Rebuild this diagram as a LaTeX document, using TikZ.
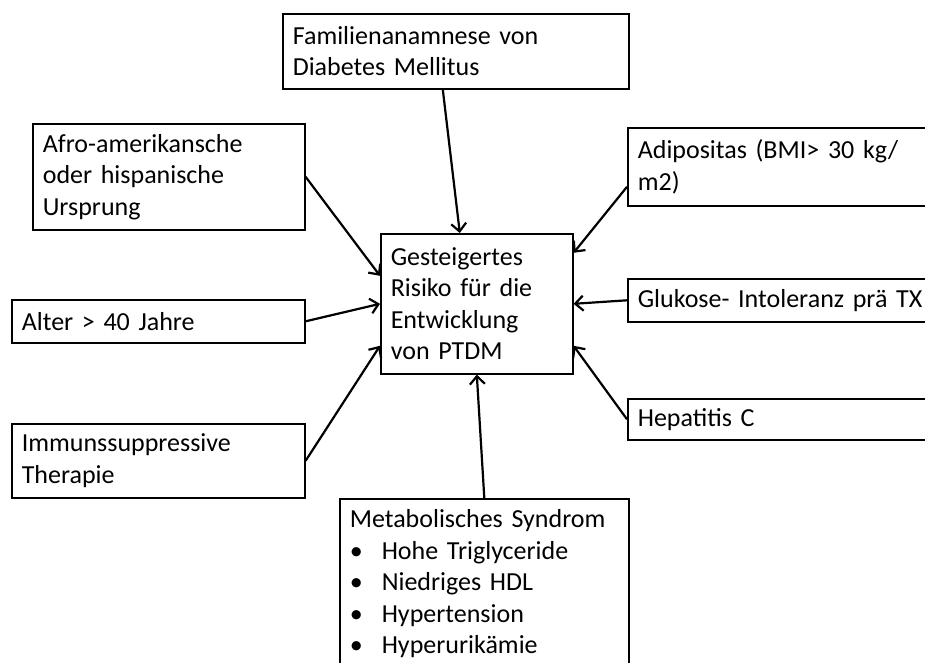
\documentclass[tikz,border=0pt]{standalone}
\usepackage{fontspec}
\setmainfont{Carlito}
\usetikzlibrary{arrows.meta, positioning}

\begin{document}
\begin{tikzpicture}[x=1pt, y=-1pt,
    factorbox/.style={draw=black, line width=1.6pt, anchor=north west, align=left,
        inner xsep=10pt, inner ysep=0pt, font=\fontsize{26}{31.5}\selectfont},
    riskarrow/.style={line width=2.2pt, -{Straight Barb[length=8pt, width=15pt]}}]
    \useasboundingbox (0,0) rectangle (925,662);
    \clip (0,0) rectangle (925,662);

    % Zentrale Box
    \node[factorbox, text width=172pt, minimum height=140pt] (risk) at (380,233)
        {Gesteigertes\\Risiko f\"ur die\\Entwicklung\\von PTDM};

    % Faktoren oben und links
    \node[factorbox, text width=326pt, minimum height=75pt] (famil) at (282,13)
        {Familienanamnese von\\Diabetes Mellitus};
    \node[factorbox, text width=252pt, minimum height=106pt] (afro) at (32,123)
        {Afro-amerikansche\\oder hispanische\\Ursprung};
    \node[factorbox, text width=273pt, minimum height=43pt] (alter) at (11,299)
        {Alter > 40 Jahre};
    \node[factorbox, text width=273pt, minimum height=74pt] (immun) at (11,423)
        {Immunssuppressive\\Therapie};

    % Faktoren rechts (am Rand abgeschnitten)
    \node[factorbox, text width=310pt, minimum height=78pt] (adip) at (627,127)
        {Adipositas (BMI> 30 kg/\\m2)};
    \node[factorbox, text width=310pt, minimum height=43pt] (gluk) at (627,278)
        {Glukose- Intoleranz pr\"a TX};
    \node[factorbox, text width=310pt, minimum height=41pt] (hepa) at (627,398)
        {Hepatitis C};

    % Faktor unten
    \node[factorbox, text width=269pt, inner ysep=11pt] (metab) at (339,498)
        {Metabolisches Syndrom\\
         \makebox[32pt][l]{\textbullet}Hohe Triglyceride\\
         \makebox[32pt][l]{\textbullet}Niedriges HDL\\
         \makebox[32pt][l]{\textbullet}Hypertension\\
         \makebox[32pt][l]{\textbullet}Hyperurik\"amie};

    % Pfeile zur zentralen Box
    \draw[riskarrow] ([xshift=-13pt]famil.south) -- ([xshift=-17pt]risk.north);
    \draw[riskarrow] (afro.east) -- ([yshift=28pt]risk.west);
    \draw[riskarrow] (alter.east) -- (risk.west);
    \draw[riskarrow] (immun.east) -- ([yshift=-42pt]risk.west);
    \draw[riskarrow] (metab.north) -- (risk.south);
    \draw[riskarrow] ([yshift=-20pt]adip.west) -- ([yshift=51pt]risk.east);
    \draw[riskarrow] (gluk.west) -- (risk.east);
    \draw[riskarrow] (hepa.west) -- ([yshift=-42pt]risk.east);
\end{tikzpicture}
\end{document}
